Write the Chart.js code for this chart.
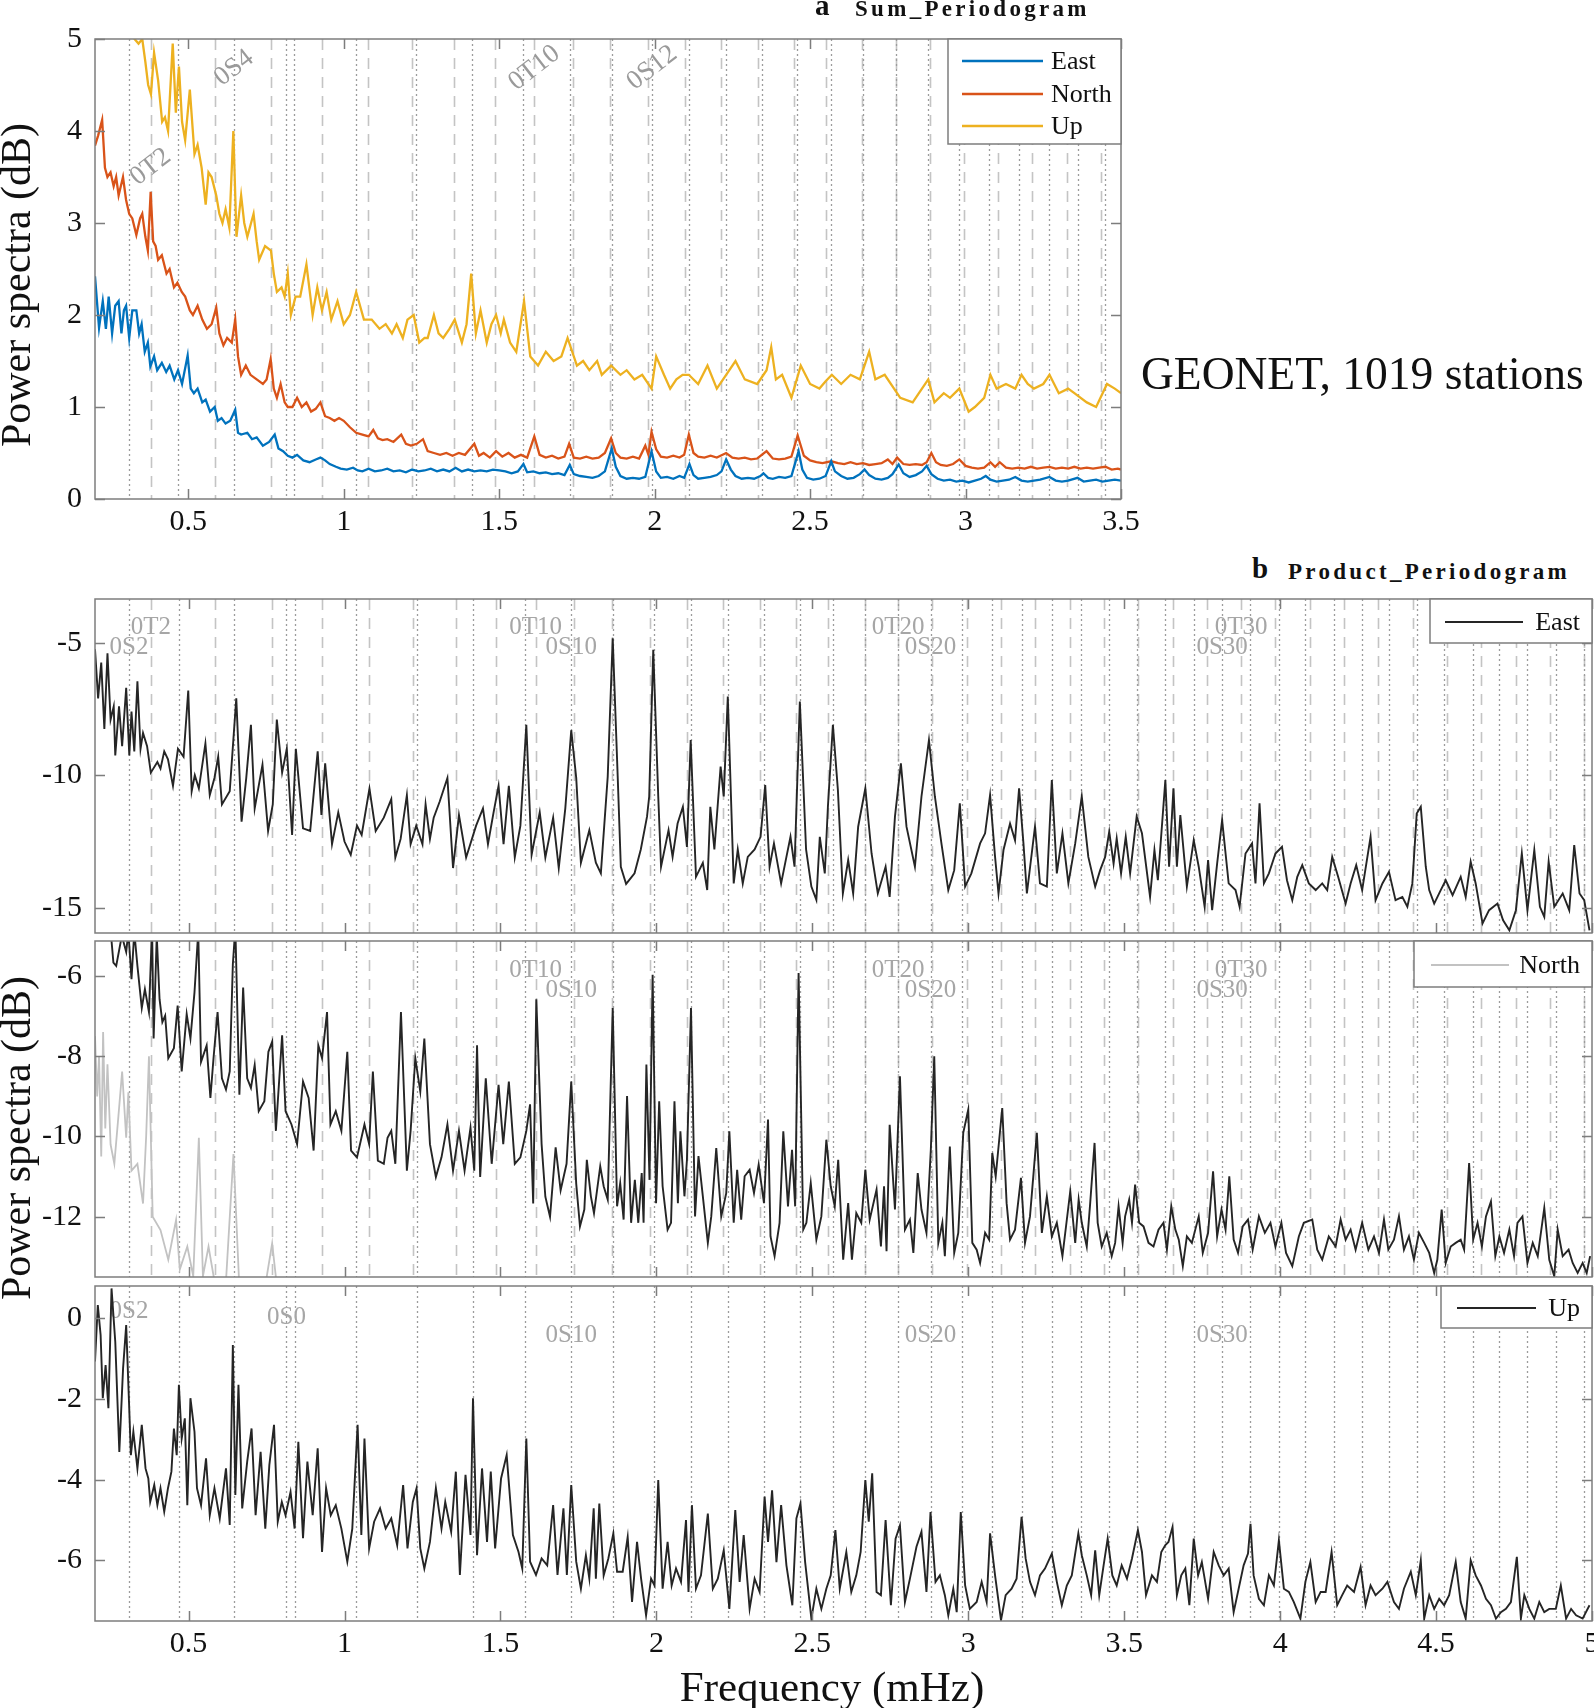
<!DOCTYPE html>
<html><head><meta charset="utf-8">
<script src="https://cdn.jsdelivr.net/npm/chart.js@4.4.0/dist/chart.umd.min.js"></script>
<style>
html,body{margin:0;padding:0;background:#fff;width:1594px;height:1708px;overflow:hidden;position:relative;}
.pane{position:absolute;left:0;}
.txt{position:absolute;white-space:nowrap;color:#111;font-family:"Liberation Serif","Times New Roman",serif;}
.rot{position:absolute;white-space:nowrap;color:#111;font-family:"Liberation Serif",serif;font-size:42px;line-height:42px;width:420px;text-align:center;transform:rotate(-90deg);transform-origin:50% 50%;}
</style></head><body>
<div class="pane" style="top:0px"><canvas id="cA" width="1160" height="545"></canvas></div>
<div class="pane" style="top:590px"><canvas id="cE" width="1594" height="350"></canvas></div>
<div class="pane" style="top:935px"><canvas id="cN" width="1594" height="350"></canvas></div>
<div class="pane" style="top:1278px"><canvas id="cU" width="1594" height="430"></canvas></div>

<div class="txt" style="left:815px;top:-9px;font-size:29px;line-height:29px;font-weight:bold">a</div>
<div class="txt" style="left:855px;top:-3px;font-size:23px;line-height:23px;font-weight:bold;letter-spacing:3.3px">Sum_Periodogram</div>
<div class="txt" style="left:1141px;top:351px;font-size:45.5px;line-height:45.5px">GEONET, 1019 stations</div>
<div class="txt" style="left:1252px;top:554px;font-size:29px;line-height:29px;font-weight:bold">b</div>
<div class="txt" style="left:1288px;top:560px;font-size:23px;line-height:23px;font-weight:bold;letter-spacing:3.3px">Product_Periodogram</div>
<div class="rot" style="left:-194px;top:264px">Power spectra (dB)</div>
<div class="rot" style="left:-194px;top:1117px">Power spectra (dB)</div>
<div class="txt" style="left:632px;top:1665px;width:400px;text-align:center;font-size:43px;line-height:43px">Frequency (mHz)</div>

<script>
// ---------- tick labels ----------
const xTicksA = [0.5, 1, 1.5, 2, 2.5, 3, 3.5];
const xTicksB = [0.5, 1, 1.5, 2, 2.5, 3, 3.5, 4, 4.5, 5];
const yTicksA = [0, 1, 2, 3, 4, 5];
const yTicksEast = [-15, -10, -5];
const yTicksNorth = [-12, -10, -8, -6];
const yTicksUp = [-6, -4, -2, 0];

// ---------- normal mode frequencies (mHz) ----------
const modeS = [0.309,0.468,0.647,0.814,0.840,1.038,1.232,1.413,1.578,1.727,1.862,1.992,2.111,2.229,2.345,2.459,2.566,2.670,2.775,2.879,2.979,3.075,3.171,3.268,3.361,3.450,3.541,3.632,3.723,3.814,3.905,3.996,4.081,4.172,4.263,4.349,4.440,4.526,4.617,4.703,4.793,4.884,4.975];
const modeT = [0.379,0.586,0.766,0.929,1.079,1.221,1.356,1.486,1.613,1.737,1.858,1.978,2.097,2.214,2.331,2.447,2.550,2.668,2.775,2.885,2.995,3.105,3.215,3.325,3.435,3.545,3.655,3.765,3.875,3.985,4.095,4.205,4.315,4.425,4.535,4.645,4.755,4.865,4.975];

// ---------- a: Sum periodogram [freq mHz, dB] ----------
const sumEast = [[0.200,2.42],[0.213,1.86],[0.225,2.15],[0.235,1.85],[0.244,2.2],[0.255,1.8],[0.265,2.1],[0.276,2.15],[0.285,1.8],[0.293,2.05],[0.300,2.1],[0.310,1.75],[0.320,2.05],[0.333,2.05],[0.342,1.8],[0.350,1.9],[0.360,1.6],[0.370,1.7],[0.378,1.44],[0.390,1.55],[0.400,1.4],[0.415,1.48],[0.429,1.38],[0.440,1.45],[0.455,1.3],[0.467,1.4],[0.480,1.25],[0.498,1.56],[0.508,1.2],[0.518,1.15],[0.530,1.2],[0.545,1.05],[0.556,1.08],[0.570,0.95],[0.585,1.0],[0.595,0.85],[0.607,0.88],[0.620,0.82],[0.635,0.85],[0.651,0.97],[0.660,0.72],[0.670,0.7],[0.690,0.72],[0.705,0.65],[0.720,0.67],[0.740,0.58],[0.760,0.62],[0.778,0.7],[0.790,0.55],[0.805,0.52],[0.820,0.47],[0.835,0.45],[0.850,0.48],[0.870,0.42],[0.890,0.4],[0.910,0.43],[0.925,0.45],[0.940,0.42],[0.955,0.38],[0.975,0.35],[0.990,0.33],[1.010,0.32],[1.030,0.34],[1.045,0.31],[1.060,0.3],[1.080,0.33],[1.100,0.3],[1.120,0.31],[1.140,0.33],[1.160,0.3],[1.180,0.31],[1.200,0.29],[1.220,0.32],[1.240,0.3],[1.260,0.31],[1.280,0.33],[1.300,0.3],[1.320,0.32],[1.340,0.3],[1.360,0.34],[1.380,0.3],[1.400,0.32],[1.420,0.3],[1.440,0.31],[1.460,0.3],[1.480,0.32],[1.500,0.31],[1.520,0.3],[1.540,0.28],[1.560,0.3],[1.578,0.38],[1.590,0.29],[1.610,0.3],[1.630,0.28],[1.650,0.29],[1.670,0.27],[1.690,0.28],[1.710,0.26],[1.727,0.37],[1.740,0.27],[1.760,0.25],[1.780,0.24],[1.800,0.23],[1.820,0.25],[1.840,0.3],[1.862,0.55],[1.875,0.35],[1.890,0.25],[1.910,0.22],[1.930,0.23],[1.950,0.22],[1.970,0.24],[1.990,0.52],[2.005,0.3],[2.020,0.23],[2.040,0.24],[2.060,0.22],[2.080,0.25],[2.095,0.23],[2.112,0.38],[2.125,0.26],[2.140,0.22],[2.160,0.23],[2.180,0.24],[2.200,0.26],[2.215,0.3],[2.230,0.43],[2.245,0.32],[2.260,0.25],[2.280,0.22],[2.300,0.23],[2.320,0.22],[2.340,0.25],[2.350,0.28],[2.365,0.23],[2.380,0.22],[2.400,0.24],[2.420,0.23],[2.440,0.25],[2.463,0.52],[2.475,0.32],[2.490,0.23],[2.510,0.21],[2.530,0.22],[2.550,0.25],[2.568,0.41],[2.580,0.3],[2.600,0.25],[2.620,0.22],[2.640,0.23],[2.660,0.27],[2.675,0.32],[2.690,0.26],[2.710,0.22],[2.730,0.21],[2.750,0.23],[2.765,0.27],[2.785,0.375],[2.800,0.28],[2.820,0.24],[2.840,0.26],[2.860,0.3],[2.875,0.36],[2.890,0.27],[2.910,0.22],[2.930,0.2],[2.950,0.21],[2.970,0.19],[2.990,0.2],[3.010,0.18],[3.030,0.2],[3.050,0.22],[3.065,0.25],[3.080,0.21],[3.100,0.19],[3.120,0.2],[3.140,0.21],[3.160,0.24],[3.180,0.2],[3.200,0.19],[3.220,0.2],[3.240,0.21],[3.270,0.24],[3.290,0.2],[3.310,0.19],[3.330,0.2],[3.360,0.23],[3.380,0.19],[3.400,0.2],[3.420,0.21],[3.440,0.19],[3.460,0.2],[3.480,0.21],[3.500,0.2]];
const sumNorth = [[0.200,3.84],[0.210,3.95],[0.223,4.12],[0.232,3.6],[0.240,3.5],[0.250,3.55],[0.260,3.4],[0.268,3.5],[0.276,3.3],[0.290,3.5],[0.300,3.25],[0.310,3.1],[0.320,3.05],[0.333,2.87],[0.345,3.05],[0.352,3.1],[0.362,2.85],[0.370,2.7],[0.379,3.34],[0.387,2.8],[0.395,2.75],[0.403,2.6],[0.415,2.65],[0.430,2.45],[0.440,2.5],[0.454,2.3],[0.465,2.35],[0.479,2.25],[0.490,2.2],[0.505,2.05],[0.515,2.0],[0.530,2.1],[0.545,1.95],[0.560,1.85],[0.575,1.9],[0.590,2.08],[0.600,1.8],[0.613,1.67],[0.625,1.75],[0.640,1.7],[0.651,1.95],[0.660,1.55],[0.670,1.35],[0.685,1.45],[0.700,1.35],[0.720,1.3],[0.740,1.25],[0.752,1.3],[0.765,1.52],[0.775,1.2],[0.785,1.1],[0.797,1.25],[0.810,1.05],[0.820,1.0],[0.835,1.0],[0.850,1.1],[0.865,1.0],[0.880,1.05],[0.895,0.95],[0.910,0.98],[0.925,1.05],[0.940,0.9],[0.955,0.88],[0.970,0.85],[0.985,0.88],[1.000,0.85],[1.020,0.78],[1.040,0.72],[1.060,0.7],[1.080,0.68],[1.095,0.75],[1.110,0.66],[1.125,0.64],[1.140,0.65],[1.160,0.62],[1.185,0.7],[1.200,0.6],[1.216,0.58],[1.235,0.6],[1.255,0.65],[1.270,0.52],[1.290,0.5],[1.310,0.48],[1.330,0.5],[1.350,0.47],[1.370,0.5],[1.390,0.48],[1.420,0.6],[1.435,0.47],[1.450,0.5],[1.470,0.45],[1.490,0.52],[1.510,0.46],[1.530,0.5],[1.550,0.45],[1.570,0.48],[1.590,0.45],[1.613,0.68],[1.630,0.48],[1.650,0.45],[1.670,0.47],[1.690,0.44],[1.710,0.46],[1.725,0.6],[1.740,0.45],[1.760,0.44],[1.780,0.46],[1.800,0.44],[1.820,0.45],[1.840,0.5],[1.860,0.66],[1.875,0.5],[1.890,0.45],[1.910,0.44],[1.930,0.46],[1.950,0.44],[1.970,0.58],[1.980,0.48],[1.990,0.73],[2.005,0.54],[2.020,0.46],[2.040,0.45],[2.060,0.47],[2.080,0.45],[2.095,0.48],[2.110,0.7],[2.125,0.5],[2.140,0.46],[2.160,0.45],[2.180,0.47],[2.200,0.45],[2.230,0.5],[2.250,0.45],[2.270,0.44],[2.290,0.45],[2.310,0.43],[2.330,0.44],[2.360,0.52],[2.380,0.44],[2.400,0.43],[2.420,0.44],[2.440,0.46],[2.460,0.69],[2.480,0.47],[2.500,0.42],[2.520,0.4],[2.540,0.39],[2.568,0.41],[2.590,0.39],[2.610,0.38],[2.630,0.4],[2.650,0.38],[2.670,0.39],[2.690,0.37],[2.710,0.38],[2.730,0.39],[2.750,0.43],[2.765,0.38],[2.780,0.45],[2.800,0.38],[2.820,0.37],[2.840,0.38],[2.860,0.37],[2.875,0.4],[2.890,0.5],[2.905,0.4],[2.920,0.37],[2.940,0.36],[2.960,0.38],[2.980,0.43],[3.000,0.36],[3.020,0.34],[3.040,0.33],[3.060,0.34],[3.080,0.4],[3.095,0.35],[3.110,0.4],[3.130,0.34],[3.150,0.33],[3.170,0.34],[3.190,0.33],[3.210,0.35],[3.230,0.33],[3.250,0.34],[3.270,0.35],[3.290,0.33],[3.310,0.34],[3.330,0.33],[3.350,0.35],[3.370,0.33],[3.390,0.34],[3.410,0.33],[3.430,0.34],[3.450,0.35],[3.470,0.32],[3.490,0.33],[3.500,0.32]];
const sumUp = [[0.200,6.8],[0.230,6.3],[0.260,5.9],[0.290,5.5],[0.315,5.2],[0.327,5.0],[0.340,4.95],[0.352,5.0],[0.362,4.75],[0.371,4.5],[0.380,4.4],[0.390,4.85],[0.403,4.55],[0.416,4.1],[0.425,4.15],[0.435,4.0],[0.450,4.95],[0.460,4.2],[0.470,4.7],[0.480,4.1],[0.490,3.9],[0.505,4.45],[0.520,3.75],[0.530,3.85],[0.543,3.6],[0.556,3.2],[0.565,3.55],[0.575,3.5],[0.590,3.3],[0.600,3.1],[0.610,3.0],[0.620,3.15],[0.632,2.95],[0.645,4.0],[0.655,2.85],[0.670,3.3],[0.680,3.0],[0.690,2.85],[0.710,3.1],[0.720,2.8],[0.728,2.6],[0.747,2.75],[0.766,2.7],[0.775,2.45],[0.785,2.25],[0.800,2.3],[0.810,2.2],[0.820,2.45],[0.830,2.0],[0.845,2.2],[0.860,2.2],[0.880,2.55],[0.900,2.0],[0.915,2.3],[0.930,2.05],[0.945,2.25],[0.960,1.95],[0.980,2.15],[1.000,1.9],[1.020,2.0],[1.040,2.25],[1.065,1.95],[1.090,1.95],[1.115,1.85],[1.135,1.9],[1.155,1.8],[1.170,1.9],[1.190,1.75],[1.205,1.95],[1.225,2.0],[1.243,1.7],[1.260,1.75],[1.270,1.75],[1.290,2.0],[1.305,1.8],[1.320,1.75],[1.340,1.85],[1.357,1.95],[1.380,1.7],[1.395,1.9],[1.410,2.45],[1.425,1.8],[1.440,2.05],[1.460,1.7],[1.475,1.9],[1.490,2.0],[1.505,1.8],[1.515,1.95],[1.535,1.7],[1.555,1.6],[1.580,2.15],[1.600,1.55],[1.625,1.45],[1.650,1.6],[1.675,1.5],[1.700,1.55],[1.720,1.75],[1.750,1.45],[1.770,1.5],[1.790,1.4],[1.815,1.5],[1.830,1.35],[1.860,1.45],[1.890,1.35],[1.910,1.4],[1.935,1.3],[1.960,1.35],[1.990,1.2],[2.005,1.55],[2.030,1.35],[2.050,1.2],[2.070,1.3],[2.090,1.35],[2.110,1.35],[2.140,1.25],[2.170,1.45],[2.200,1.2],[2.230,1.35],[2.260,1.5],[2.290,1.3],[2.330,1.25],[2.360,1.4],[2.375,1.65],[2.390,1.3],[2.410,1.35],[2.440,1.1],[2.470,1.45],[2.500,1.25],[2.530,1.2],[2.550,1.28],[2.570,1.35],[2.600,1.25],[2.630,1.35],[2.660,1.3],[2.690,1.6],[2.710,1.3],[2.740,1.35],[2.770,1.2],[2.790,1.1],[2.830,1.05],[2.850,1.15],[2.880,1.3],[2.900,1.05],[2.930,1.15],[2.950,1.1],[2.980,1.2],[3.010,0.95],[3.030,1.0],[3.060,1.1],[3.080,1.35],[3.100,1.2],[3.130,1.25],[3.160,1.2],[3.180,1.35],[3.200,1.25],[3.220,1.2],[3.250,1.25],[3.270,1.35],[3.300,1.15],[3.330,1.2],[3.350,1.15],[3.390,1.05],[3.420,1.0],[3.455,1.25],[3.480,1.2],[3.500,1.15]];

// ---------- b: Product periodogram [freq mHz, dB] ----------
const prodEast = [[0.200,-5.25],[0.210,-7.1],[0.220,-5.75],[0.230,-8.25],[0.240,-5.4],[0.250,-7.9],[0.260,-7.4],[0.265,-9.25],[0.277,-7.4],[0.287,-8.9],[0.300,-6.7],[0.310,-9.25],[0.317,-7.6],[0.326,-9.1],[0.336,-6.45],[0.346,-9.0],[0.354,-8.4],[0.367,-8.9],[0.379,-9.9],[0.400,-9.5],[0.410,-9.75],[0.422,-9.1],[0.434,-9.4],[0.450,-10.4],[0.466,-9.0],[0.484,-9.3],[0.499,-6.8],[0.510,-10.6],[0.520,-10.0],[0.533,-10.5],[0.554,-8.8],[0.568,-10.75],[0.583,-10.1],[0.595,-9.3],[0.607,-11.1],[0.632,-10.6],[0.653,-7.1],[0.670,-11.75],[0.685,-10.1],[0.700,-8.1],[0.712,-11.25],[0.737,-9.6],[0.755,-12.1],[0.770,-11.1],[0.783,-7.9],[0.800,-9.9],[0.815,-9.0],[0.832,-12.25],[0.844,-9.0],[0.867,-12.0],[0.890,-12.1],[0.914,-9.1],[0.926,-11.5],[0.938,-9.55],[0.960,-12.6],[0.980,-11.4],[1.000,-12.5],[1.020,-13.0],[1.040,-11.9],[1.055,-12.25],[1.080,-10.5],[1.100,-12.1],[1.126,-11.6],[1.150,-10.9],[1.163,-13.1],[1.180,-12.4],[1.200,-10.75],[1.212,-12.6],[1.230,-11.9],[1.250,-12.6],[1.260,-11.1],[1.274,-12.4],[1.286,-11.6],[1.305,-11.0],[1.330,-10.1],[1.348,-13.5],[1.367,-11.5],[1.390,-13.1],[1.422,-11.9],[1.444,-11.25],[1.460,-12.6],[1.478,-11.4],[1.494,-10.4],[1.510,-12.6],[1.527,-10.4],[1.546,-13.1],[1.564,-11.9],[1.583,-8.1],[1.600,-13.0],[1.626,-11.4],[1.644,-13.1],[1.669,-11.6],[1.687,-13.5],[1.708,-11.25],[1.727,-8.3],[1.743,-10.1],[1.758,-13.3],[1.785,-12.07],[1.806,-13.3],[1.822,-13.7],[1.844,-10.05],[1.860,-4.83],[1.876,-10.05],[1.886,-13.45],[1.903,-14.1],[1.930,-13.7],[1.950,-12.8],[1.970,-11.56],[1.977,-10.8],[1.990,-5.27],[2.006,-10.8],[2.015,-13.45],[2.039,-12.07],[2.052,-13.08],[2.068,-11.82],[2.085,-11.19],[2.098,-12.7],[2.110,-8.67],[2.127,-13.83],[2.149,-13.3],[2.163,-14.33],[2.173,-11.19],[2.186,-12.8],[2.206,-9.67],[2.216,-10.8],[2.229,-7.03],[2.248,-14.08],[2.261,-12.8],[2.277,-14.08],[2.293,-13.08],[2.315,-12.8],[2.334,-12.32],[2.349,-10.37],[2.363,-13.45],[2.377,-12.57],[2.400,-14.08],[2.417,-13.08],[2.430,-12.32],[2.443,-13.45],[2.460,-7.22],[2.480,-12.8],[2.497,-14.2],[2.513,-14.7],[2.524,-12.32],[2.540,-13.7],[2.550,-11.19],[2.566,-8.1],[2.582,-10.55],[2.598,-14.46],[2.615,-13.2],[2.631,-14.46],[2.647,-11.94],[2.670,-10.49],[2.690,-12.95],[2.710,-14.46],[2.735,-13.45],[2.748,-14.59],[2.765,-11.56],[2.784,-9.55],[2.802,-11.94],[2.829,-13.45],[2.850,-10.8],[2.874,-8.67],[2.893,-10.8],[2.914,-12.57],[2.936,-14.33],[2.955,-13.58],[2.973,-11.06],[2.990,-14.2],[3.010,-13.7],[3.038,-12.57],[3.054,-12.19],[3.070,-10.75],[3.086,-13.08],[3.097,-14.46],[3.113,-12.82],[3.134,-11.82],[3.150,-12.45],[3.163,-10.49],[3.177,-12.57],[3.188,-14.46],[3.214,-11.94],[3.230,-14.08],[3.252,-14.2],[3.268,-10.18],[3.284,-13.7],[3.302,-12.19],[3.321,-14.08],[3.343,-12.57],[3.364,-10.8],[3.385,-13.08],[3.407,-14.2],[3.423,-13.58],[3.439,-13.08],[3.452,-12.13],[3.466,-13.33],[3.476,-12.38],[3.490,-13.7],[3.505,-12.32],[3.519,-13.7],[3.540,-11.56],[3.557,-12.19],[3.583,-14.59],[3.597,-12.82],[3.608,-13.96],[3.632,-10.18],[3.644,-13.45],[3.658,-10.49],[3.669,-13.45],[3.680,-11.5],[3.701,-14.2],[3.723,-12.45],[3.739,-13.45],[3.758,-14.96],[3.769,-13.2],[3.782,-15.09],[3.798,-13.33],[3.814,-11.69],[3.835,-14.08],[3.857,-14.33],[3.870,-14.96],[3.889,-12.95],[3.910,-12.57],[3.921,-14.08],[3.934,-11.06],[3.948,-14.08],[3.964,-13.7],[3.985,-12.95],[4.006,-12.7],[4.022,-13.96],[4.039,-14.71],[4.055,-13.83],[4.071,-13.39],[4.092,-14.08],[4.114,-14.33],[4.135,-14.08],[4.151,-14.33],[4.167,-13.08],[4.186,-13.83],[4.210,-14.84],[4.226,-14.08],[4.244,-13.39],[4.263,-14.33],[4.290,-12.32],[4.306,-14.71],[4.328,-14.08],[4.349,-13.64],[4.370,-14.71],[4.392,-14.59],[4.408,-14.96],[4.424,-14.08],[4.438,-11.44],[4.451,-11.19],[4.467,-13.45],[4.478,-14.33],[4.494,-14.84],[4.515,-14.33],[4.531,-13.96],[4.553,-14.52],[4.579,-13.83],[4.595,-14.59],[4.611,-13.26],[4.627,-14.08],[4.649,-15.59],[4.670,-15.09],[4.697,-14.84],[4.715,-15.47],[4.735,-15.85],[4.756,-15.09],[4.775,-12.95],[4.793,-15.09],[4.815,-12.82],[4.833,-14.96],[4.847,-15.34],[4.861,-13.26],[4.879,-14.96],[4.906,-14.46],[4.927,-15.09],[4.943,-12.63],[4.960,-14.46],[4.975,-14.71],[4.992,-15.85]];
const prodNorth = [[0.200,-4.6],[0.215,-4.3],[0.230,-4.8],[0.245,-4.4],[0.259,-5.67],[0.268,-5.75],[0.286,-5.0],[0.300,-5.4],[0.307,-4.9],[0.317,-6.08],[0.326,-4.9],[0.336,-5.75],[0.350,-6.8],[0.360,-6.33],[0.373,-6.9],[0.383,-4.8],[0.388,-7.56],[0.398,-5.0],[0.407,-6.58],[0.416,-7.15],[0.425,-6.99],[0.435,-8.05],[0.453,-7.8],[0.465,-6.74],[0.478,-8.38],[0.494,-6.95],[0.506,-7.56],[0.519,-6.41],[0.531,-4.9],[0.540,-8.14],[0.558,-7.73],[0.570,-9.04],[0.580,-8.05],[0.593,-6.9],[0.607,-8.55],[0.620,-8.83],[0.632,-8.38],[0.642,-5.71],[0.650,-4.8],[0.663,-8.96],[0.675,-6.29],[0.688,-8.55],[0.700,-8.79],[0.712,-8.22],[0.725,-9.37],[0.743,-9.12],[0.756,-7.89],[0.768,-7.64],[0.780,-9.86],[0.800,-7.48],[0.811,-9.37],[0.830,-9.7],[0.848,-10.19],[0.867,-8.63],[0.885,-9.04],[0.901,-10.35],[0.916,-7.73],[0.928,-8.05],[0.944,-6.9],[0.955,-9.7],[0.972,-9.37],[0.990,-9.86],[1.009,-7.89],[1.021,-10.35],[1.040,-10.52],[1.064,-9.7],[1.079,-10.19],[1.091,-8.38],[1.107,-10.6],[1.126,-10.68],[1.138,-10.03],[1.150,-9.86],[1.163,-10.68],[1.181,-6.9],[1.200,-10.85],[1.212,-9.86],[1.227,-8.05],[1.243,-8.88],[1.256,-7.56],[1.274,-10.19],[1.293,-11.01],[1.311,-10.52],[1.330,-9.7],[1.348,-10.85],[1.367,-9.86],[1.385,-10.85],[1.404,-9.78],[1.416,-10.85],[1.425,-7.73],[1.435,-11.01],[1.453,-8.55],[1.472,-10.68],[1.494,-8.71],[1.509,-10.19],[1.527,-8.63],[1.546,-10.68],[1.564,-10.52],[1.583,-9.86],[1.595,-9.2],[1.605,-11.67],[1.615,-6.58],[1.632,-10.19],[1.644,-11.5],[1.659,-12.0],[1.677,-10.27],[1.693,-11.34],[1.712,-10.68],[1.727,-8.63],[1.743,-11.18],[1.755,-12.24],[1.769,-11.82],[1.777,-10.58],[1.790,-11.49],[1.800,-11.91],[1.820,-10.74],[1.831,-11.24],[1.844,-11.57],[1.860,-6.8],[1.874,-11.74],[1.884,-11.16],[1.895,-12.07],[1.906,-8.99],[1.919,-12.15],[1.931,-11.08],[1.942,-12.15],[1.953,-10.91],[1.959,-12.15],[1.968,-8.21],[1.978,-11.08],[1.988,-5.97],[1.999,-11.66],[2.009,-9.12],[2.020,-11.24],[2.036,-12.32],[2.047,-12.15],[2.058,-9.12],[2.069,-11.66],[2.077,-9.87],[2.090,-11.49],[2.098,-10.58],[2.111,-6.8],[2.124,-11.99],[2.135,-10.49],[2.149,-11.49],[2.165,-12.65],[2.176,-11.99],[2.192,-10.29],[2.208,-11.99],[2.224,-11.41],[2.234,-9.87],[2.248,-12.15],[2.259,-10.83],[2.272,-12.07],[2.283,-10.99],[2.299,-10.83],[2.313,-11.41],[2.328,-10.7],[2.345,-11.66],[2.358,-9.58],[2.366,-12.49],[2.379,-12.98],[2.395,-12.15],[2.407,-9.87],[2.422,-11.74],[2.435,-10.33],[2.445,-11.74],[2.456,-5.93],[2.471,-12.32],[2.481,-12.15],[2.495,-11.16],[2.513,-12.57],[2.529,-11.99],[2.545,-10.08],[2.559,-11.24],[2.572,-11.74],[2.583,-10.58],[2.599,-13.07],[2.615,-11.66],[2.627,-13.07],[2.641,-11.91],[2.657,-12.15],[2.670,-10.83],[2.684,-12.07],[2.706,-11.32],[2.720,-12.74],[2.730,-11.24],[2.738,-12.86],[2.748,-9.71],[2.765,-11.82],[2.781,-8.5],[2.797,-12.32],[2.813,-12.07],[2.824,-12.9],[2.838,-10.91],[2.850,-11.82],[2.866,-12.4],[2.880,-10.33],[2.891,-8.0],[2.904,-12.65],[2.917,-12.15],[2.925,-12.98],[2.941,-10.25],[2.955,-12.9],[2.968,-12.4],[2.984,-9.91],[3.000,-9.33],[3.013,-12.65],[3.027,-12.82],[3.038,-13.15],[3.054,-12.4],[3.067,-12.57],[3.077,-10.41],[3.088,-11.0],[3.109,-9.29],[3.123,-11.66],[3.134,-12.57],[3.150,-12.32],[3.169,-11.03],[3.182,-12.65],[3.198,-11.99],[3.220,-9.91],[3.236,-12.4],[3.252,-11.49],[3.268,-12.49],[3.284,-12.15],[3.302,-12.98],[3.327,-11.37],[3.343,-12.65],[3.354,-11.57],[3.364,-12.15],[3.380,-12.74],[3.391,-11.66],[3.405,-10.16],[3.415,-12.15],[3.428,-12.74],[3.444,-12.4],[3.460,-12.98],[3.471,-12.65],[3.482,-11.74],[3.495,-12.65],[3.503,-11.99],[3.516,-11.57],[3.525,-12.15],[3.535,-11.2],[3.548,-12.15],[3.562,-12.24],[3.578,-12.65],[3.594,-12.74],[3.610,-12.32],[3.626,-12.15],[3.637,-12.82],[3.651,-11.74],[3.664,-12.32],[3.675,-12.57],[3.688,-13.23],[3.701,-12.49],[3.717,-12.65],[3.728,-12.32],[3.739,-11.99],[3.752,-12.9],[3.769,-12.4],[3.785,-10.87],[3.798,-12.49],[3.812,-11.82],[3.825,-12.32],[3.837,-10.99],[3.851,-12.57],[3.865,-12.9],[3.880,-12.24],[3.897,-12.07],[3.912,-12.82],[3.932,-11.99],[3.951,-12.4],[3.969,-12.15],[3.985,-12.74],[4.004,-12.15],[4.019,-12.9],[4.039,-13.23],[4.060,-12.49],[4.076,-12.15],[4.103,-12.07],[4.119,-12.82],[4.135,-13.07],[4.156,-12.49],[4.178,-12.74],[4.194,-12.07],[4.210,-12.57],[4.226,-12.32],[4.242,-12.82],[4.263,-12.15],[4.283,-12.82],[4.301,-12.49],[4.317,-12.9],[4.333,-12.07],[4.347,-12.82],[4.365,-12.57],[4.381,-11.99],[4.397,-12.82],[4.413,-12.49],[4.429,-13.07],[4.445,-12.4],[4.462,-12.65],[4.478,-12.9],[4.494,-13.4],[4.504,-13.07],[4.518,-11.82],[4.531,-13.15],[4.547,-12.74],[4.563,-12.65],[4.579,-12.57],[4.590,-12.82],[4.606,-10.66],[4.619,-12.57],[4.633,-12.15],[4.647,-12.74],[4.660,-11.99],[4.676,-11.62],[4.690,-12.98],[4.703,-12.49],[4.718,-12.9],[4.735,-12.32],[4.750,-12.98],[4.761,-12.15],[4.777,-11.99],[4.793,-13.15],[4.810,-12.65],[4.826,-12.98],[4.847,-11.78],[4.863,-13.07],[4.879,-13.48],[4.890,-12.32],[4.906,-12.98],[4.925,-12.82],[4.938,-13.15],[4.954,-13.4],[4.970,-13.15],[4.983,-13.4],[4.994,-12.98]];
const prodNorthLight = [[0.200,-7.5],[0.207,-9.0],[0.213,-8.0],[0.220,-10.5],[0.226,-7.4],[0.233,-9.8],[0.240,-8.2],[0.250,-10.2],[0.262,-10.68],[0.275,-9.5],[0.287,-8.38],[0.300,-10.03],[0.307,-8.9],[0.317,-10.85],[0.336,-10.68],[0.354,-11.67],[0.364,-10.0],[0.373,-8.0],[0.385,-12.0],[0.410,-12.33],[0.435,-13.07],[0.460,-12.08],[0.472,-13.31],[0.496,-12.74],[0.515,-13.48],[0.533,-10.03],[0.546,-13.48],[0.564,-12.74],[0.583,-13.6],[0.620,-13.6],[0.644,-10.44],[0.663,-13.8],[0.740,-14.0],[0.768,-12.66],[0.790,-14.2]];
const prodUp = [[0.200,-1.07],[0.209,0.33],[0.218,-0.41],[0.225,-1.98],[0.234,-1.16],[0.243,-2.23],[0.253,0.74],[0.265,-0.58],[0.278,-3.31],[0.290,-1.24],[0.300,-0.17],[0.309,-2.07],[0.315,-3.39],[0.323,-2.81],[0.336,-3.72],[0.350,-2.64],[0.362,-3.72],[0.371,-3.97],[0.377,-4.55],[0.390,-4.13],[0.400,-4.63],[0.410,-4.21],[0.422,-4.79],[0.434,-4.21],[0.445,-3.8],[0.453,-2.73],[0.462,-3.39],[0.469,-1.65],[0.478,-2.98],[0.488,-2.48],[0.496,-4.63],[0.506,-1.98],[0.519,-2.81],[0.527,-4.21],[0.540,-4.63],[0.556,-3.47],[0.568,-4.88],[0.583,-4.21],[0.600,-4.96],[0.620,-3.72],[0.632,-5.12],[0.642,-0.66],[0.650,-4.38],[0.660,-1.65],[0.672,-4.71],[0.688,-3.55],[0.702,-2.73],[0.715,-4.88],[0.731,-3.31],[0.746,-5.21],[0.759,-3.64],[0.774,-2.64],[0.786,-5.04],[0.799,-4.55],[0.811,-4.88],[0.827,-4.3],[0.840,-5.21],[0.852,-3.06],[0.867,-5.45],[0.881,-3.55],[0.898,-4.88],[0.914,-3.22],[0.928,-5.79],[0.941,-4.21],[0.956,-4.88],[0.972,-4.63],[0.990,-5.21],[1.009,-6.03],[1.025,-5.21],[1.042,-2.64],[1.054,-5.37],[1.064,-2.98],[1.079,-5.7],[1.095,-5.04],[1.114,-4.71],[1.132,-5.21],[1.150,-4.96],[1.169,-5.62],[1.188,-4.13],[1.202,-5.7],[1.219,-4.55],[1.231,-4.21],[1.243,-5.7],[1.256,-6.2],[1.274,-5.54],[1.293,-4.21],[1.311,-5.21],[1.323,-4.55],[1.342,-5.29],[1.357,-3.8],[1.370,-6.36],[1.388,-3.88],[1.404,-5.37],[1.412,-1.98],[1.425,-5.87],[1.441,-3.72],[1.457,-5.54],[1.469,-3.8],[1.483,-5.7],[1.502,-3.97],[1.520,-3.39],[1.540,-5.37],[1.558,-5.79],[1.570,-6.2],[1.583,-2.98],[1.595,-6.03],[1.614,-6.36],[1.632,-5.95],[1.650,-6.12],[1.669,-4.63],[1.683,-6.36],[1.702,-4.71],[1.713,-6.36],[1.727,-4.13],[1.743,-6.03],[1.758,-6.7],[1.774,-5.87],[1.785,-6.45],[1.799,-4.71],[1.806,-6.45],[1.817,-4.59],[1.831,-6.37],[1.846,-5.95],[1.862,-5.33],[1.874,-6.28],[1.892,-6.28],[1.908,-5.42],[1.922,-7.03],[1.938,-5.54],[1.951,-6.45],[1.967,-7.36],[1.983,-6.45],[1.994,-6.62],[2.006,-4.01],[2.020,-6.7],[2.036,-5.54],[2.049,-6.62],[2.063,-6.2],[2.079,-6.53],[2.095,-5.0],[2.103,-6.78],[2.114,-4.63],[2.127,-6.7],[2.143,-6.37],[2.165,-4.84],[2.181,-6.7],[2.197,-6.45],[2.216,-5.75],[2.234,-7.2],[2.253,-4.75],[2.267,-6.53],[2.280,-5.37],[2.299,-7.2],[2.315,-6.45],[2.331,-6.78],[2.347,-4.42],[2.358,-5.54],[2.371,-4.26],[2.385,-6.04],[2.400,-4.63],[2.417,-6.12],[2.436,-7.11],[2.449,-4.96],[2.462,-4.59],[2.477,-6.04],[2.497,-7.44],[2.513,-6.7],[2.529,-7.2],[2.545,-6.7],[2.559,-6.37],[2.574,-5.25],[2.588,-6.7],[2.609,-5.79],[2.625,-6.78],[2.641,-6.37],[2.655,-5.79],[2.670,-4.01],[2.681,-5.04],[2.692,-3.84],[2.706,-6.78],[2.720,-6.86],[2.735,-5.0],[2.752,-7.11],[2.767,-5.46],[2.781,-5.13],[2.797,-7.03],[2.813,-6.45],[2.834,-5.66],[2.850,-5.29],[2.866,-6.78],[2.879,-4.8],[2.895,-6.53],[2.909,-6.37],[2.925,-6.86],[2.936,-7.36],[2.952,-6.7],[2.963,-7.28],[2.976,-4.8],[2.990,-6.62],[3.005,-7.2],[3.027,-7.03],[3.043,-6.53],[3.059,-7.03],[3.070,-5.33],[3.086,-6.37],[3.105,-7.48],[3.120,-6.86],[3.139,-6.7],[3.155,-6.45],[3.171,-4.92],[3.184,-5.95],[3.198,-6.53],[3.214,-6.86],[3.230,-6.37],[3.246,-6.2],[3.268,-5.83],[3.284,-6.53],[3.300,-7.11],[3.316,-6.62],[3.332,-6.37],[3.353,-5.33],[3.364,-5.87],[3.380,-6.37],[3.394,-6.86],[3.407,-5.75],[3.420,-6.86],[3.434,-6.12],[3.447,-5.46],[3.462,-6.37],[3.476,-6.62],[3.492,-6.12],[3.509,-6.45],[3.525,-5.95],[3.544,-5.25],[3.557,-5.79],[3.570,-6.86],[3.589,-6.37],[3.605,-6.53],[3.619,-5.79],[3.632,-5.62],[3.642,-5.54],[3.655,-5.17],[3.669,-6.86],[3.683,-6.37],[3.696,-6.2],[3.709,-7.11],[3.723,-5.46],[3.737,-6.37],[3.749,-6.04],[3.769,-6.95],[3.787,-5.79],[3.803,-6.12],[3.819,-6.37],[3.835,-6.2],[3.851,-7.28],[3.867,-6.7],[3.883,-6.12],[3.897,-5.83],[3.905,-5.09],[3.915,-6.37],[3.932,-6.95],[3.948,-7.11],[3.964,-6.37],[3.980,-6.62],[3.996,-5.5],[4.012,-6.7],[4.028,-6.78],[4.044,-7.03],[4.065,-7.44],[4.081,-6.53],[4.097,-6.04],[4.114,-7.03],[4.130,-6.78],[4.146,-6.78],[4.165,-5.79],[4.183,-7.11],[4.199,-6.86],[4.215,-6.62],[4.237,-6.78],[4.258,-6.16],[4.274,-7.11],[4.290,-6.62],[4.306,-6.86],[4.328,-6.7],[4.344,-6.53],[4.365,-7.03],[4.381,-7.2],[4.397,-6.7],[4.419,-6.28],[4.435,-6.86],[4.451,-6.0],[4.462,-7.44],[4.478,-6.86],[4.494,-7.2],[4.510,-6.95],[4.526,-7.11],[4.542,-6.86],[4.563,-6.04],[4.579,-7.03],[4.595,-7.44],[4.611,-6.0],[4.627,-6.37],[4.644,-6.62],[4.660,-6.95],[4.676,-7.11],[4.692,-7.44],[4.708,-7.28],[4.724,-7.2],[4.740,-7.03],[4.759,-5.91],[4.772,-7.44],[4.783,-6.86],[4.799,-7.2],[4.815,-7.44],[4.831,-7.03],[4.847,-7.28],[4.863,-7.2],[4.884,-7.2],[4.900,-6.62],[4.917,-7.44],[4.933,-7.2],[4.949,-7.36],[4.970,-7.44],[4.992,-7.11]];

// ---------- mode labels ----------
const labelsA = [{t:'0T2',f:0.379,dy:128},{t:'0S4',f:0.647,dy:29},{t:'0T10',f:1.613,dy:29},{t:'0S12',f:1.992,dy:29}];
const labelsEast = [{t:'0T2',f:0.379,dy:28},{t:'0S2',f:0.309,dy:48},{t:'0T10',f:1.613,dy:28},{t:'0S10',f:1.727,dy:48},{t:'0T20',f:2.775,dy:28},{t:'0S20',f:2.879,dy:48},{t:'0T30',f:3.875,dy:28},{t:'0S30',f:3.814,dy:48}];
const labelsNorth = [{t:'0T10',f:1.613,dy:29},{t:'0S10',f:1.727,dy:49},{t:'0T20',f:2.775,dy:29},{t:'0S20',f:2.879,dy:49},{t:'0T30',f:3.875,dy:29},{t:'0S30',f:3.814,dy:49}];
const labelsUp = [{t:'0S2',f:0.309,dy:25},{t:'0S0',f:0.814,dy:31},{t:'0S10',f:1.727,dy:49},{t:'0S20',f:2.879,dy:49},{t:'0S30',f:3.814,dy:49}];

const SERIF = '"Liberation Serif", "Times New Roman", serif';
const FRAME = '#7d7d7d';

const panelPlugin = {
  id: 'panel',
  beforeDatasetsDraw(chart, args, o) {
    const {ctx, chartArea: a, scales: {x}} = chart;
    ctx.save();
    ctx.beginPath(); ctx.rect(a.left, a.top, a.right - a.left, a.bottom - a.top); ctx.clip();
    (o.lines || []).forEach(L => {
      ctx.setLineDash(L.dash); ctx.strokeStyle = L.color; ctx.lineWidth = L.width;
      L.values.forEach(f => {
        if (f < x.min || f > x.max) return;
        const px = Math.round(x.getPixelForValue(f)) + 0.5;
        ctx.beginPath(); ctx.moveTo(px, a.top); ctx.lineTo(px, a.bottom); ctx.stroke();
      });
    });
    ctx.setLineDash([]);
    (o.labels || []).forEach(lb => {
      ctx.save();
      ctx.translate(x.getPixelForValue(lb.f), a.top + lb.dy);
      ctx.rotate(o.labelRot || 0);
      ctx.font = o.labelFont; ctx.fillStyle = o.labelColor;
      ctx.textAlign = 'center'; ctx.textBaseline = 'middle';
      ctx.fillText(lb.t, 0, 0);
      ctx.restore();
    });
    ctx.restore();
  },
  afterDraw(chart, args, o) {
    const {ctx, chartArea: a, scales: {x, y}} = chart;
    ctx.save();
    ctx.strokeStyle = FRAME; ctx.lineWidth = 1.5; ctx.setLineDash([]);
    ctx.strokeRect(a.left, a.top, a.right - a.left, a.bottom - a.top);
    const tl = 10;
    x.ticks.forEach(t => {
      const px = Math.round(x.getPixelForValue(t.value)) + 0.5;
      ctx.beginPath(); ctx.moveTo(px, a.bottom); ctx.lineTo(px, a.bottom - tl);
      ctx.moveTo(px, a.top); ctx.lineTo(px, a.top + tl); ctx.stroke();
    });
    y.ticks.forEach(t => {
      const py = Math.round(y.getPixelForValue(t.value)) + 0.5;
      ctx.beginPath(); ctx.moveTo(a.left, py); ctx.lineTo(a.left + tl, py);
      ctx.moveTo(a.right, py); ctx.lineTo(a.right - tl, py); ctx.stroke();
    });
    const lg = o.legend;
    if (lg) {
      const bx = a.right - lg.w, by = a.top;
      ctx.fillStyle = '#fff'; ctx.fillRect(bx, by, lg.w, lg.h);
      ctx.strokeStyle = FRAME; ctx.lineWidth = 1.5; ctx.strokeRect(bx, by, lg.w, lg.h);
      ctx.font = '26px ' + SERIF; ctx.textBaseline = 'middle';
      lg.items.forEach(it => {
        const ds = chart.data.datasets[it.ds];
        ctx.strokeStyle = ds.borderColor; ctx.lineWidth = ds.borderWidth + 0.3;
        ctx.beginPath(); ctx.moveTo(bx + lg.l0, by + it.dy); ctx.lineTo(bx + lg.l1, by + it.dy); ctx.stroke();
        ctx.fillStyle = '#111';
        if (lg.rightText) { ctx.textAlign = 'right'; ctx.fillText(ds.label, bx + lg.w - 12, by + it.dy + 1); }
        else { ctx.textAlign = 'left'; ctx.fillText(ds.label, bx + lg.tx, by + it.dy + 1); }
      });
    }
    ctx.restore();
  }
};

function modeLines(withT) {
  const arr = [];
  if (withT) arr.push({values: modeT, dash: [11, 8], color: '#c4c4c4', width: 1.6});
  arr.push({values: modeS, dash: [2, 3], color: '#9c9c9c', width: 1.3});
  return arr;
}

function makeChart(id, o) {
  const toXY = s => s.map(p => ({x: p[0], y: p[1]}));
  return new Chart(document.getElementById(id), {
    type: 'line',
    data: {datasets: o.series.map(s => ({
      label: s.label, data: toXY(s.data), borderColor: s.color, borderWidth: s.width,
      pointRadius: 0, tension: 0, fill: false, order: s.order || 0
    }))},
    options: {
      responsive: false, animation: false, devicePixelRatio: 1,
      layout: {padding: {left: 0, top: o.padTop, right: o.padRight, bottom: 0}},
      plugins: {
        legend: {display: false}, tooltip: {enabled: false},
        panel: {lines: o.lines, labels: o.labels, labelFont: o.labelFont, labelColor: o.labelColor, labelRot: o.labelRot || 0, legend: o.legend}
      },
      scales: {
        x: {
          type: 'linear', min: o.xmin, max: o.xmax,
          grid: {display: false, drawTicks: false}, border: {display: false},
          ticks: {display: o.xLabels, padding: 5, color: '#111', font: {family: SERIF, size: 30}, maxRotation: 0, autoSkip: false, callback: v => String(v)},
          afterBuildTicks: s => { s.ticks = o.xticks.map(v => ({value: v})); },
          afterFit: s => { s.height = o.xH; s.paddingLeft = 0; s.paddingRight = 0; }
        },
        y: {
          type: 'linear', min: o.ymin, max: o.ymax,
          grid: {display: false, drawTicks: false}, border: {display: false},
          ticks: {padding: 13, color: '#111', font: {family: SERIF, size: 30}, autoSkip: false, callback: v => String(v)},
          afterBuildTicks: s => { s.ticks = o.yticks.map(v => ({value: v})); },
          afterFit: s => { s.width = 95; s.paddingTop = 0; s.paddingBottom = 0; }
        }
      }
    },
    plugins: [panelPlugin]
  });
}

const DARK = '#252525';

makeChart('cA', {
  series: [
    {label: 'East', data: sumEast, color: '#0072BD', width: 2.3},
    {label: 'North', data: sumNorth, color: '#D95319', width: 2.3},
    {label: 'Up', data: sumUp, color: '#EDB120', width: 2.3}
  ],
  xmin: 0.2, xmax: 3.5, xticks: xTicksA, ymin: 0, ymax: 5, yticks: yTicksA,
  padTop: 39, padRight: 1160 - 1121, xH: 545 - 499, xLabels: true,
  lines: modeLines(true), labels: labelsA, labelFont: '27px ' + SERIF, labelColor: '#9a9a9a', labelRot: -0.66,
  legend: {w: 173, h: 105, l0: 14, l1: 95, tx: 103, rightText: false, items: [{ds: 0, dy: 22}, {ds: 1, dy: 55}, {ds: 2, dy: 87}]}
});

makeChart('cE', {
  series: [{label: 'East', data: prodEast, color: DARK, width: 1.9}],
  xmin: 0.2, xmax: 5, xticks: xTicksB, ymin: -15.95, ymax: -3.35, yticks: yTicksEast,
  padTop: 9, padRight: 2, xH: 350 - (933 - 590), xLabels: false,
  lines: modeLines(true), labels: labelsEast, labelFont: '25px ' + SERIF, labelColor: '#a6a6a6',
  legend: {w: 162, h: 44, l0: 15, l1: 93, rightText: true, items: [{ds: 0, dy: 23}]}
});

makeChart('cN', {
  series: [
    {label: 'North', data: prodNorthLight, color: '#c2c2c2', width: 1.8, order: 1},
    {label: 'North', data: prodNorth, color: DARK, width: 1.9, order: 0}
  ],
  xmin: 0.2, xmax: 5, xticks: xTicksB, ymin: -13.5, ymax: -5.13, yticks: yTicksNorth,
  padTop: 6, padRight: 2, xH: 350 - (1277 - 935), xLabels: false,
  lines: modeLines(true), labels: labelsNorth, labelFont: '25px ' + SERIF, labelColor: '#a6a6a6',
  legend: {w: 178, h: 46, l0: 17, l1: 95, rightText: true, items: [{ds: 0, dy: 24}]}
});

makeChart('cU', {
  series: [{label: 'Up', data: prodUp, color: DARK, width: 1.9}],
  xmin: 0.2, xmax: 5, xticks: xTicksB, ymin: -7.5, ymax: 0.8, yticks: yTicksUp,
  padTop: 8, padRight: 2, xH: 430 - (1621 - 1278), xLabels: true,
  lines: modeLines(false), labels: labelsUp, labelFont: '25px ' + SERIF, labelColor: '#a6a6a6',
  legend: {w: 151, h: 42, l0: 16, l1: 95, rightText: true, items: [{ds: 0, dy: 22}]}
});
</script>
</body></html>
